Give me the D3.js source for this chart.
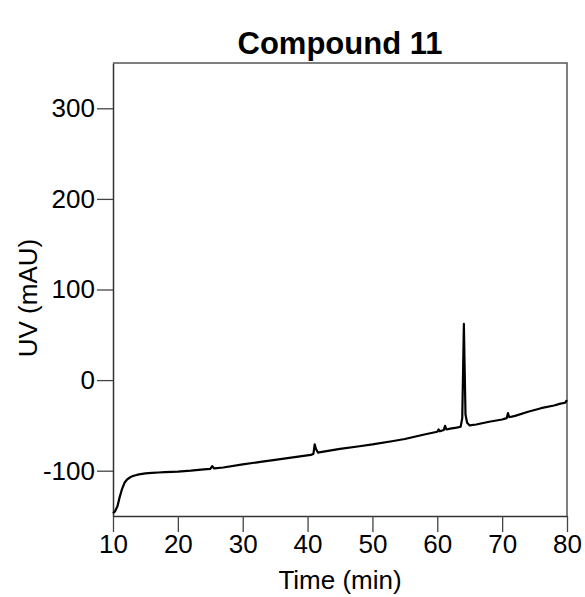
<!DOCTYPE html>
<html>
<head>
<meta charset="utf-8">
<script src="https://cdn.jsdelivr.net/npm/d3@7"></script>
<style>
  body { margin: 0; background: #fff; }
  text { font-family: "Liberation Sans", Arial, Helvetica, sans-serif; }
</style>
</head>
<body>
<div id="container"></div>
<script>
// chromatogram trace
const timeMin = [10.0, 10.3, 10.7, 11.0, 11.4, 11.8, 12.2, 12.6, 13.0, 13.5, 14.0, 15.0, 16.0, 17.0, 18.0, 20.0,
    22.0, 24.0, 25.0, 25.3, 25.6, 27.0, 30.0, 33.0, 35.0, 38.0, 40.5, 40.9, 41.1, 41.3, 41.6, 42.0,
    45.0, 48.0, 50.0, 53.0, 55.0, 58.0, 60.0, 60.2, 60.4, 61.0, 61.2, 61.4, 62.0, 63.0, 63.6, 63.85,
    64.0, 64.1, 64.2, 64.35, 64.6, 65.0, 66.0, 68.0, 70.0, 70.7, 70.9, 71.1, 72.0, 74.0, 76.0, 78.0,
    79.0, 79.7, 80.0];
const uv = [-147, -145, -139, -130, -120, -113, -109.5, -107.5, -106, -105, -104, -103, -102.5, -102, -101.5, -101,
    -100, -98.5, -98, -95, -97.5, -96.5, -93, -90, -88, -85, -82.5, -81.5, -71, -76, -80, -79.5,
    -76, -73, -71, -67.5, -65, -60, -57, -54.5, -56.5, -55, -50.5, -54.5, -53.5, -52.5, -51.5, -42,
    20, 62, 20, -38, -47, -50, -49, -46, -43.5, -42, -36.5, -41, -39.5, -35, -31, -28,
    -26, -25, -22];

const xTicks = [10, 20, 30, 40, 50, 60, 70, 80];
const yTicks = [-100, 0, 100, 200, 300];

const title = "Compound 11";
const xLabel = "Time (min)";
const yLabel = "UV (mAU)";

const width = 585, height = 597;
const margin = { top: 63, right: 18, bottom: 81, left: 113 };
const innerW = width - margin.left - margin.right;
const innerH = height - margin.top - margin.bottom;

const svg = d3.select("#container").append("svg")
    .attr("width", width)
    .attr("height", height);

const x = d3.scaleLinear().domain([10, 80]).range([0, innerW]);
const y = d3.scaleLinear().domain([-150, 350]).range([innerH, 0]);

const g = svg.append("g").attr("transform", `translate(${margin.left},${margin.top})`);

// frame (top + right)
g.append("path")
    .attr("d", `M0,0H${innerW}V${innerH}`)
    .attr("fill", "none")
    .attr("stroke", "#555")
    .attr("stroke-width", 1.5);

// axes
const xAxis = g.append("g")
    .attr("transform", `translate(0,${innerH})`)
    .call(d3.axisBottom(x).tickValues(xTicks).tickSize(16).tickPadding(3).tickSizeOuter(0));

const yAxis = g.append("g")
    .call(d3.axisLeft(y).tickValues(yTicks).tickFormat(d => String(d))
        .tickSize(16).tickPadding(2).tickSizeOuter(0));

[xAxis, yAxis].forEach(ax => {
    ax.selectAll("path.domain").attr("stroke", "#333").attr("stroke-width", 1.5);
    ax.selectAll(".tick line").attr("stroke", "#444").attr("stroke-width", 1.3);
    ax.selectAll(".tick text")
        .attr("fill", "#000")
        .style("font-size", "26px")
        .style("font-family", "'Liberation Sans', Arial, sans-serif");
});

// trace
const pts = timeMin.map((t, i) => [t, uv[i]]);
const line = d3.line().x(d => x(d[0])).y(d => y(d[1]));

g.append("path")
    .datum(pts)
    .attr("d", line)
    .attr("fill", "none")
    .attr("stroke", "#000")
    .attr("stroke-width", 2.2)
    .attr("stroke-linejoin", "round");

// labels
svg.append("text")
    .attr("x", margin.left + innerW / 2)
    .attr("y", 54)
    .attr("text-anchor", "middle")
    .style("font-size", "31px")
    .style("font-weight", "bold")
    .text(title);

svg.append("text")
    .attr("x", margin.left + innerW / 2)
    .attr("y", 589)
    .attr("text-anchor", "middle")
    .style("font-size", "26px")
    .text(xLabel);

svg.append("text")
    .attr("transform", `translate(37,298) rotate(-90)`)
    .attr("text-anchor", "middle")
    .style("font-size", "26px")
    .text(yLabel);
</script>
</body>
</html>
